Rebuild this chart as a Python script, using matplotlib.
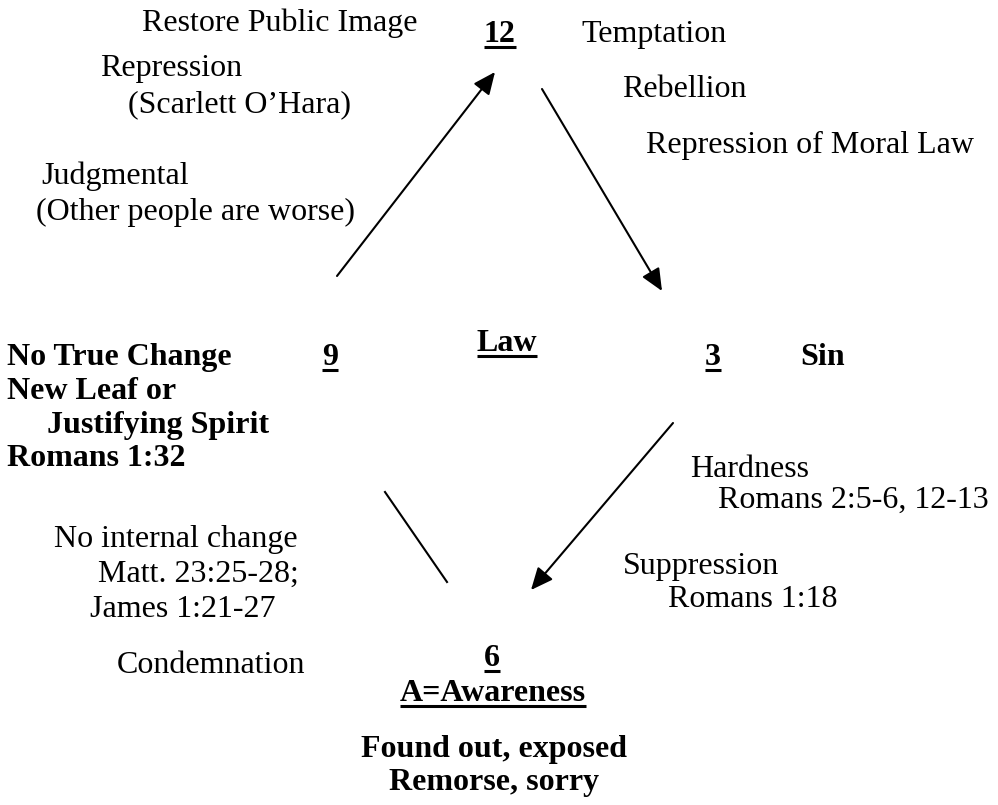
import matplotlib
matplotlib.use("Agg")
import matplotlib.pyplot as plt

W, H = 998, 805
FS = 23
FAM = "Liberation Serif"

# (text, x, baseline_y, bold, underline, halign)
labels = [
    ("Restore Public Image", 142, 31, False, False, "left"),
    ("12", 484, 42, True, True, "left"),
    ("Temptation", 581, 42, False, False, "left"),
    ("Repression", 100, 76, False, False, "left"),
    ("(Scarlett O\u2019Hara)", 128, 112, False, False, "left"),
    ("Rebellion", 622, 97, False, False, "left"),
    ("Repression of Moral Law", 646, 153, False, False, "left"),
    ("Judgmental", 41, 184, False, False, "left"),
    ("(Other people are worse)", 36, 220, False, False, "left"),
    ("No True Change", 7, 365, True, False, "left"),
    ("9", 322, 365, True, True, "left"),
    ("Law", 507, 351, True, True, "center"),
    ("3", 705, 365, True, True, "left"),
    ("Sin", 800, 365, True, False, "left"),
    ("New Leaf or", 7, 399, True, False, "left"),
    ("Justifying Spirit", 47, 433, True, False, "left"),
    ("Romans 1:32", 7, 466, True, False, "left"),
    ("Hardness", 690, 477, False, False, "left"),
    ("Romans 2:5-6, 12-13", 718, 508, False, False, "left"),
    ("No internal change", 54, 547, False, False, "left"),
    ("Matt. 23:25-28;", 98, 582, False, False, "left"),
    ("James 1:21-27", 90, 617, False, False, "left"),
    ("Suppression", 623, 574, False, False, "left"),
    ("Romans 1:18", 668, 607, False, False, "left"),
    ("Condemnation", 117, 673, False, False, "left"),
    ("6", 492, 666, True, True, "center"),
    ("A=Awareness", 493, 701, True, True, "center"),
    ("Found out, exposed", 494, 757, True, False, "center"),
    ("Remorse, sorry", 494, 790, True, False, "center"),
]

# (x0, y0, x1, y1, arrowhead)
connectors = [
    (337, 276, 495, 72, True),
    (542, 89, 662, 291, True),
    (673, 423, 531, 590, True),
    (385, 492, 447, 582, False),
]

fig = plt.figure(figsize=(W / 100, H / 100), dpi=100)
ax = fig.add_axes([0, 0, 1, 1])
ax.set_xlim(0, W)
ax.set_ylim(H, 0)
ax.axis("off")

texts = []
for t, x, y, b, u, ha in labels:
    tt = ax.text(x, y, t, fontsize=FS, family=FAM,
                 fontweight="bold" if b else "normal",
                 ha=ha, va="baseline", color="black")
    texts.append((tt, u, y))

for x0, y0, x1, y1, head in connectors:
    if head:
        ax.annotate("", xy=(x1, y1), xytext=(x0, y0),
                    arrowprops=dict(arrowstyle="-|>,head_length=0.45,head_width=0.2",
                                    color="black", lw=1.5,
                                    mutation_scale=30, shrinkA=0, shrinkB=0))
    else:
        ax.plot([x0, x1], [y0, y1], color="black", lw=1.5)

fig.canvas.draw()
r = fig.canvas.get_renderer()
inv = ax.transData.inverted()
for tt, u, y in texts:
    if not u:
        continue
    bb = tt.get_window_extent(r)
    xa = inv.transform((bb.x0, bb.y0))[0]
    xb = inv.transform((bb.x1, bb.y0))[0]
    ypos = y + 5
    ax.plot([xa, xb], [ypos, ypos], color="black", lw=2.2, solid_capstyle="butt")

fig.savefig("out.png", dpi=100)
